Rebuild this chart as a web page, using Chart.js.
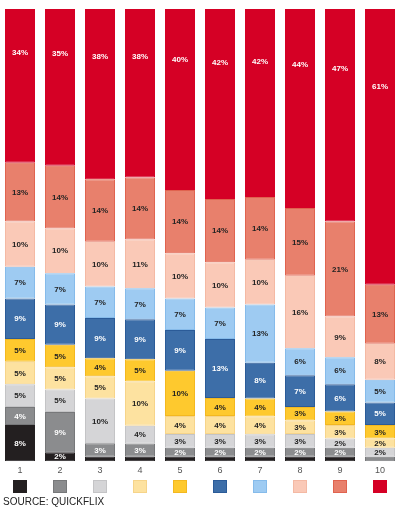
<!DOCTYPE html>
<html>
<head>
<meta charset="utf-8">
<script src="https://cdn.jsdelivr.net/npm/chart.js@4/dist/chart.umd.min.js"></script>
<style>
  html, body { margin: 0; padding: 0; background: #fff; }
  #wrap { position: relative; width: 419px; height: 509px; }
</style>
</head>
<body>
<div id="wrap"><canvas id="chart"></canvas></div>
<script>
// Categories (bars)
const categories = ["1", "2", "3", "4", "5", "6", "7", "8", "9", "10"];

// Segment values, bottom to top, one array per colour band
const black       = [8, 2, 1, 1, 1, 1, 1, 1, 1, 0];
const darkGray    = [4, 9, 3, 3, 2, 2, 2, 2, 2, 1];
const lightGray   = [5, 5, 10, 4, 3, 3, 3, 3, 2, 2];
const lightYellow = [5, 5, 5, 10, 4, 4, 4, 3, 3, 2];
const yellow      = [5, 5, 4, 5, 10, 4, 4, 3, 3, 3];
const darkBlue    = [9, 9, 9, 9, 9, 13, 8, 7, 6, 5];
const lightBlue   = [7, 7, 7, 7, 7, 7, 13, 6, 6, 5];
const pink        = [10, 10, 10, 11, 10, 10, 10, 16, 9, 8];
const salmon      = [13, 14, 14, 14, 14, 14, 14, 15, 21, 13];
const red         = [34, 35, 38, 38, 40, 42, 42, 44, 47, 61];

const series = [black, darkGray, lightGray, lightYellow, yellow, darkBlue, lightBlue, pink, salmon, red];
const fills   = ["#231f20", "#8b8c8e", "#d5d5d7", "#fde2a0", "#fec92e", "#3d6ea8", "#9ecbf2", "#fac9b7", "#e8806c", "#d50025"];
const borders = ["#231f20", "#77787a", "#c4c4c6", "#f6d48a", "#f3b820", "#2b5b98", "#86bbea", "#f4b9a4", "#e0634f", "#d50025"];
const whiteText = [true, true, false, false, false, true, false, false, false, true];

// each bar is a 100% stack
const totals = categories.map((c, i) => series.reduce((s, arr) => s + arr[i], 0));

const datasets = series.map((arr, k) => ({
  label: "s" + (k + 1),
  data: arr.map((v, i) => (v / totals[i]) * 100),
  raw: arr,
  backgroundColor: fills[k],
  borderColor: borders[k],
  borderWidth: 1,
  borderSkipped: false,
  barPercentage: 0.75,
  categoryPercentage: 1.0,
}));

const labelPlugin = {
  id: "segLabels",
  afterDatasetsDraw(chart) {
    const ctx = chart.ctx;
    ctx.save();
    ctx.font = "bold 8px 'Liberation Sans', Arial, sans-serif";
    ctx.textAlign = "center";
    ctx.textBaseline = "middle";
    chart.data.datasets.forEach((ds, k) => {
      const meta = chart.getDatasetMeta(k);
      meta.data.forEach((bar, i) => {
        const v = ds.raw[i];
        if (v < 2) return;
        let y;
        if (k === series.length - 1) {
          y = bar.y + (bar.base - bar.y) * 0.28;
        } else {
          y = (bar.y + bar.base) / 2;
        }
        ctx.fillStyle = whiteText[k] ? "#ffffff" : "#222222";
        ctx.fillText(v + "%", bar.x, y + 0.5);
      });
    });
    ctx.restore();
  },
  afterDraw(chart) {
    const ctx = chart.ctx;
    const x = chart.scales.x;
    ctx.save();
    // legend swatches under each bar
    series.forEach((arr, k) => {
      const cx = x.getPixelForValue(k);
      ctx.fillStyle = fills[k];
      ctx.fillRect(Math.round(cx - 7), 480, 14, 13);
      ctx.strokeStyle = borders[k];
      ctx.lineWidth = 1;
      ctx.strokeRect(Math.round(cx - 7) + 0.5, 480.5, 13, 12);
    });
    ctx.fillStyle = "#222222";
    ctx.font = "10px 'Liberation Sans', Arial, sans-serif";
    ctx.textAlign = "left";
    ctx.textBaseline = "alphabetic";
    ctx.fillText("SOURCE: QUICKFLIX", 3, 505);
    ctx.restore();
  },
};

new Chart(document.getElementById("chart"), {
  type: "bar",
  data: { labels: categories, datasets: datasets },
  options: {
    responsive: true,
    maintainAspectRatio: false,
    animation: false,
    layout: { padding: { top: 9, left: 0, right: 19, bottom: 29 } },
    plugins: {
      legend: { display: false },
      tooltip: { enabled: false },
    },
    scales: {
      x: {
        stacked: true,
        grid: { display: false, drawTicks: false },
        border: { display: false },
        ticks: {
          color: "#555555",
          padding: 4,
          font: { family: "'Liberation Sans', Arial, sans-serif", size: 9 },
        },
      },
      y: {
        stacked: true,
        display: false,
        min: 0,
        max: 100,
      },
    },
  },
  plugins: [labelPlugin],
});
</script>
</body>
</html>
